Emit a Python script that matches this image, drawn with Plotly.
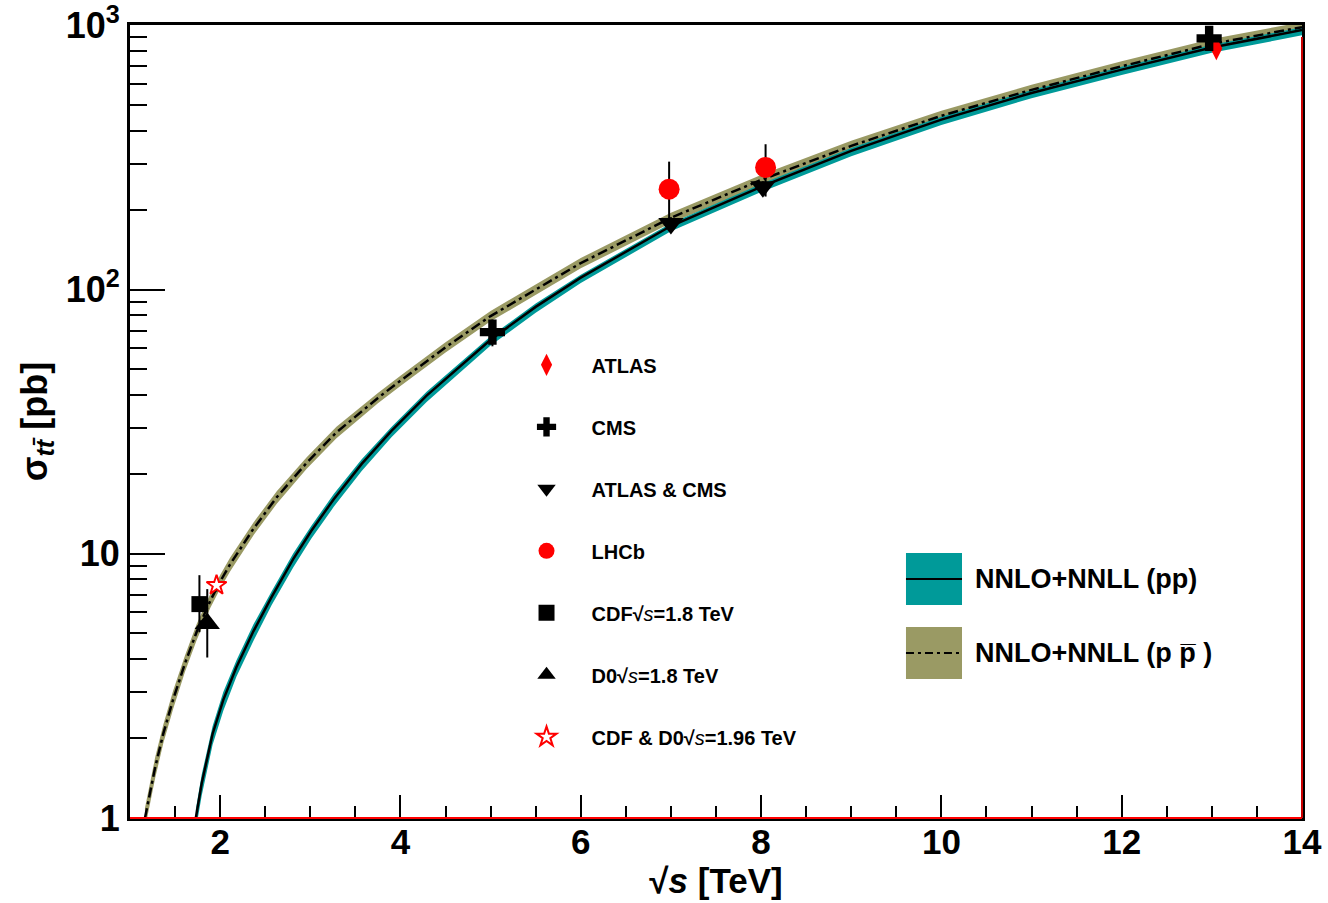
import plotly.graph_objects as go

# ---------------- theory: NNLO+NNLL (pp) ----------------
pp_x = [1.73, 1.795, 1.916, 2.035, 2.18, 2.37, 2.57, 2.81, 3.01, 3.26, 3.57, 3.90, 4.29,
        5.0, 5.5, 6.0, 7.0, 8.0, 9.0, 10.0, 11.0, 12.0, 13.0, 14.0]
pp_y = [1.0, 1.35, 2.08, 2.80, 3.72, 5.1, 6.86, 9.55, 12.2, 16.1, 21.9, 29.2, 39.7,
        64.6, 86, 111, 174, 245, 335, 440, 555, 680, 825, 960]
pp_dn_pct = [10, 10, 9, 9, 8, 8, 7, 7, 6.5, 6.5, 6, 5.5, 5.5, 5, 5, 4.5, 4.5, 4.5, 4.5, 4.5, 4.5, 4.5, 4.5, 4.5]
pp_up_pct = [8, 8, 7, 7, 6, 6, 5, 5, 4.5, 4.5, 4, 3.5, 3.5, 3, 3, 2.5, 2.5, 2.5, 2.5, 2.5, 2.5, 2.5, 2.5, 2.5]

# ---------------- theory: NNLO+NNLL (p pbar) ----------------
ppbar_x = [1.166, 1.28, 1.37, 1.48, 1.61, 1.74, 1.89, 2.0, 2.11, 2.37, 2.63, 2.96, 3.29, 3.75,
           4.0, 4.5, 5.0, 6.0, 7.0, 8.0, 9.0, 10.0, 11.0, 12.0, 13.0, 14.0]
ppbar_y = [1.0, 1.56, 2.09, 2.82, 3.85, 5.07, 6.64, 7.85, 9.12, 12.45, 16.4, 22.1, 28.8, 38.9,
           45.2, 60.5, 79.4, 126, 187, 260, 350, 455, 570, 700, 850, 985]
ppbar_pct = [9, 9, 8, 8, 7, 7, 6, 6, 6, 5.5, 5.5, 5, 5, 4.5, 4.5, 4.5, 4.5, 4.5, 4.5, 4.5, 4.5, 4.5, 4.5, 4.5, 4.5, 4.5]

# ---------------- measurements ----------------
atlas_x, atlas_y, atlas_err = [13.05], [818], [30]
cms_x, cms_y, cms_err = [5.02, 12.97], [69, 893], [8, 40]
comb_x, comb_y, comb_err = [7.0, 8.02], [178, 245], [10, 12]
lhcb_x, lhcb_y, lhcb_err = [6.98, 8.05], [240, 290], [65, 65]
cdf_x, cdf_y, cdf_up, cdf_dn = [1.77], [6.45], [1.85], [1.4]
d0_x, d0_y, d0_up, d0_dn = [1.857], [5.45], [1.9], [1.4]
tev_x, tev_y, tev_err = [1.96], [7.6], [0.4]

# axis ticks
x_ticks = [2, 4, 6, 8, 10, 12, 14]
y_ticks = [1, 10, 100, 1000]
y_ticktext = ["1", "10", "10<sup>2</sup>", "10<sup>3</sup>"]

TEAL = "#009a99"
OLIVE = "#9a9a64"
SANS = "Liberation Sans, Arial, sans-serif"

fig = go.Figure()

# olive band (p pbar)
ppbar_lo = [y * (1 - p / 100) for y, p in zip(ppbar_y, ppbar_pct)]
ppbar_hi = [y * (1 + p / 100) for y, p in zip(ppbar_y, ppbar_pct)]
fig.add_trace(go.Scatter(x=ppbar_x, y=ppbar_lo, mode="lines", line=dict(width=0, color=OLIVE),
                         showlegend=False, hoverinfo="skip"))
fig.add_trace(go.Scatter(x=ppbar_x, y=ppbar_hi, mode="lines", line=dict(width=0, color=OLIVE),
                         fill="tonexty", fillcolor=OLIVE, showlegend=False, hoverinfo="skip"))
# teal band (pp)
pp_lo = [y * (1 - p / 100) for y, p in zip(pp_y, pp_dn_pct)]
pp_hi = [y * (1 + p / 100) for y, p in zip(pp_y, pp_up_pct)]
fig.add_trace(go.Scatter(x=pp_x, y=pp_lo, mode="lines", line=dict(width=0, color=TEAL),
                         showlegend=False, hoverinfo="skip"))
fig.add_trace(go.Scatter(x=pp_x, y=pp_hi, mode="lines", line=dict(width=0, color=TEAL),
                         fill="tonexty", fillcolor=TEAL, showlegend=False, hoverinfo="skip"))
# central lines
fig.add_trace(go.Scatter(x=pp_x, y=pp_y, mode="lines", line=dict(color="black", width=2.5),
                         showlegend=False))
fig.add_trace(go.Scatter(x=ppbar_x, y=ppbar_y, mode="lines",
                         line=dict(color="black", width=2.5, dash="10px,4px,3px,4px"),
                         showlegend=False))

def err(arr, arrminus=None):
    d = dict(type="data", array=arr, color="black", thickness=2, width=0)
    if arrminus is not None:
        d["symmetric"] = False
        d["arrayminus"] = arrminus
    return d

SQS = "√<span style='font-weight:normal'><i>s</i></span>"

fig.add_trace(go.Scatter(x=atlas_x, y=atlas_y, mode="markers", name="ATLAS", legendgroup="a",
                         error_y=err(atlas_err),
                         marker=dict(symbol="diamond-tall", size=17, color="red", line=dict(width=0))))
fig.add_trace(go.Scatter(x=cms_x, y=cms_y, mode="markers", name="CMS", legendgroup="b",
                         error_y=err(cms_err),
                         marker=dict(symbol="cross", size=21, color="black", line=dict(width=0))))
fig.add_trace(go.Scatter(x=comb_x, y=comb_y, mode="markers", name="ATLAS & CMS", legendgroup="c",
                         error_y=err(comb_err),
                         marker=dict(symbol="triangle-down", size=22, color="black", line=dict(width=0))))
fig.add_trace(go.Scatter(x=lhcb_x, y=lhcb_y, mode="markers", name="LHCb", legendgroup="d",
                         error_y=err(lhcb_err),
                         marker=dict(symbol="circle", size=21, color="red", line=dict(width=0))))
fig.add_trace(go.Scatter(x=cdf_x, y=cdf_y, mode="markers", name="CDF" + SQS + "=1.8 TeV", legendgroup="e",
                         error_y=err(cdf_up, cdf_dn),
                         marker=dict(symbol="square", size=16, color="black", line=dict(width=0))))
fig.add_trace(go.Scatter(x=d0_x, y=d0_y, mode="markers", name="D0" + SQS + "=1.8 TeV", legendgroup="f",
                         error_y=err(d0_up, d0_dn),
                         marker=dict(symbol="triangle-up", size=22, color="black", line=dict(width=0))))
fig.add_trace(go.Scatter(x=tev_x, y=tev_y, mode="markers", name="CDF & D0" + SQS + "=1.96 TeV", legendgroup="g",
                         error_y=err(tev_err),
                         marker=dict(symbol="star", size=15, color="white", line=dict(width=2, color="red"))))

# manual band legend
shapes = [
    dict(type="rect", xref="paper", yref="paper", x0=0.6621, x1=0.7099, y0=0.2686, y1=0.3342,
         fillcolor=TEAL, line=dict(width=0)),
    dict(type="line", xref="paper", yref="paper", x0=0.6621, x1=0.7099, y0=0.3014, y1=0.3014,
         line=dict(color="black", width=2)),
    dict(type="rect", xref="paper", yref="paper", x0=0.6621, x1=0.7099, y0=0.1753, y1=0.2409,
         fillcolor=OLIVE, line=dict(width=0)),
    dict(type="line", xref="paper", yref="paper", x0=0.6621, x1=0.7099, y0=0.2081, y1=0.2081,
         line=dict(color="black", width=2, dash="8px,4px,3px,4px")),
    # red frame lines (bottom and right)
    dict(type="line", xref="paper", yref="paper", x0=0, x1=1, y0=0, y1=0, line=dict(color="red", width=2)),
    dict(type="line", xref="paper", yref="paper", x0=1, x1=1, y0=0, y1=0.985, line=dict(color="#cc0000", width=2)),
]
annotations = [
    dict(xref="paper", yref="paper", x=0.7193, y=0.3014, xanchor="left", yanchor="middle", showarrow=False,
         text="NNLO+NNLL (pp)", font=dict(family=SANS, size=27, color="black", weight="bold")),
    dict(xref="paper", yref="paper", x=0.7193, y=0.2081, xanchor="left", yanchor="middle", showarrow=False,
         text="NNLO+NNLL (p p\u0305 )", font=dict(family=SANS, size=27, color="black", weight="bold")),
]

fig.update_layout(
    width=1328, height=903, autosize=False,
    margin=dict(l=130, r=26, t=25, b=85, autoexpand=False),
    paper_bgcolor="white", plot_bgcolor="white",
    shapes=shapes, annotations=annotations,
    showlegend=True,
    legend=dict(x=0.317, y=0.596, xanchor="left", yanchor="top", bgcolor="rgba(0,0,0,0)",
                font=dict(family=SANS, size=20, color="black", weight="bold"),
                itemwidth=80, tracegroupgap=33, traceorder="grouped"),
    xaxis=dict(range=[1, 14], tickmode="array", tickvals=x_ticks, ticks="inside", ticklen=23, tickwidth=2,
               tickcolor="black", showline=True, linecolor="black", linewidth=3, mirror=True,
               showgrid=False, zeroline=False, automargin=False, ticklabelstandoff=-9,
               minor=dict(dtick=0.5, tick0=0, ticks="inside", ticklen=12, tickwidth=2, tickcolor="black", showgrid=False),
               tickfont=dict(family=SANS, size=35, color="black", weight="bold"),
               title=dict(text="√<i>s</i> [TeV]", standoff=8,
                          font=dict(family=SANS, size=35, color="black", weight="bold"))),
    yaxis=dict(type="log", range=[0, 3.0015], tickmode="array", tickvals=y_ticks, ticktext=y_ticktext,
               ticks="inside", ticklen=35, tickwidth=2, tickcolor="black", ticklabeloverflow="allow",
               showline=True, linecolor="black", linewidth=3, mirror=True, showgrid=False, zeroline=False,
               automargin=False,
               minor=dict(tickmode="array", tickvals=[m * 10 ** e for e in range(3) for m in range(2, 10)],
                          ticks="inside", ticklen=17, tickwidth=2, tickcolor="black", showgrid=False),
               tickfont=dict(family=SANS, size=36, color="black", weight="bold"),
               title=dict(text="σ<sub><i>tt\u0304</i></sub> [pb]", standoff=8,
                          font=dict(family=SANS, size=36, color="black", weight="bold"))),
)

fig.write_html(
    "out.html",
    config={"displayModeBar": False},
    post_script=(
        "document.documentElement.style.margin='0';"
        "document.body.style.margin='0';"
        "document.documentElement.style.overflow='hidden';"
        "document.body.style.overflow='hidden';"
    ),
)
